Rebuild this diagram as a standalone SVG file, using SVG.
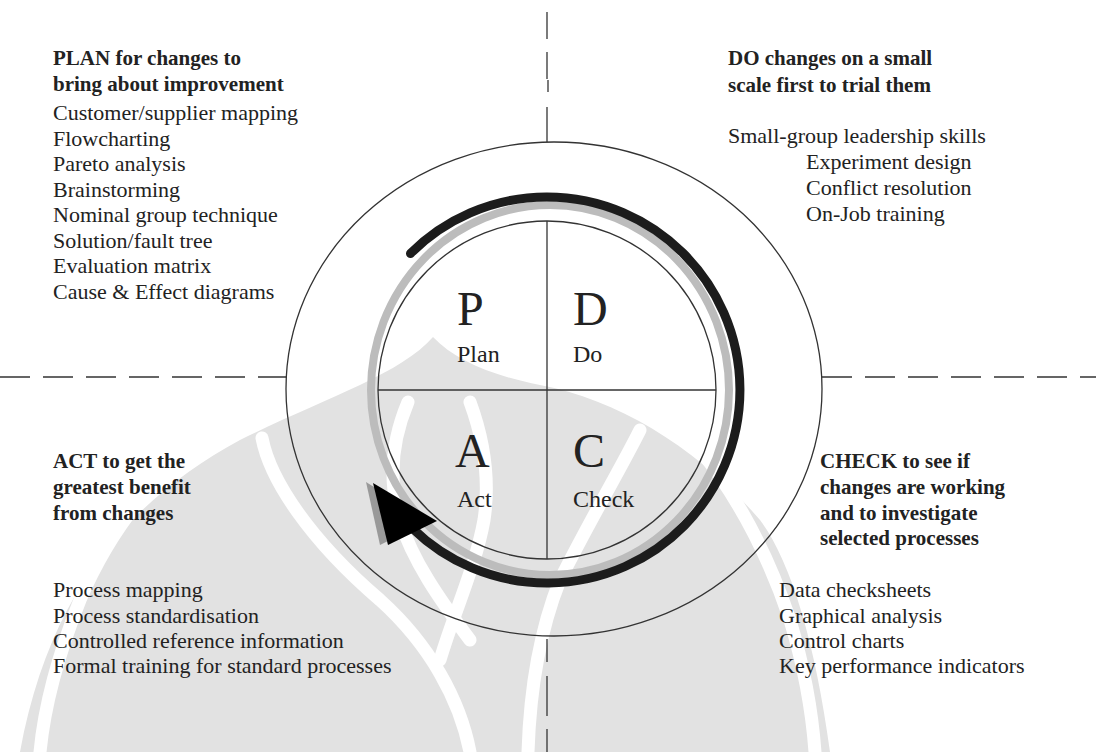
<svg xmlns="http://www.w3.org/2000/svg" width="1096" height="752" viewBox="0 0 1096 752">
<style>
text{font-family:"Liberation Serif","Times New Roman",serif;fill:#222}
.h{font-weight:bold;font-size:21px}
.t{font-size:22px}
.big{font-size:48px}
.lbl{font-size:24px}
.ln{stroke:#333;stroke-width:1.3;fill:none}
.wm{fill:#e2e2e2}
.cut{fill:none;stroke:#fff;stroke-width:13;stroke-linecap:round}
</style>
<rect width="1096" height="752" fill="#fff"/>
<g id="watermark">
<path class="wm" d="M 433 337 C 400 375 320 400 240 440 C 130 500 50 590 20 752 L 830 752 C 815 640 790 560 760 520 C 700 450 620 400 540 385 C 490 375 455 360 433 337 Z"/>
<path class="cut" d="M 200 442 C 150 480 110 530 80 600 C 60 650 45 700 40 752"/>
<path class="cut" d="M 262 438 C 270 480 310 540 380 600 C 430 645 460 700 470 752"/>
<path class="cut" d="M 408 402 C 392 440 388 480 400 520 C 412 560 440 600 470 640"/>
<path class="cut" d="M 470 402 C 484 440 490 480 484 520 C 476 565 455 610 440 660"/>
<path class="cut" d="M 640 430 C 620 470 590 520 560 580 C 540 630 530 690 528 752"/>
<path class="cut" d="M 700 450 C 740 500 770 560 790 620 C 805 670 812 710 815 752"/>
</g>
<g id="axes">
<line class="ln" x1="0" y1="377" x2="287" y2="377" stroke-dasharray="30 13"/>
<line class="ln" x1="822" y1="377" x2="1096" y2="377" stroke-dasharray="30 13"/>
<line class="ln" x1="547" y1="12" x2="547" y2="39"/>
<line class="ln" x1="547" y1="52" x2="547" y2="79"/>
<line class="ln" x1="548" y1="80" x2="548" y2="92"/>
<line class="ln" x1="547" y1="107" x2="547" y2="142"/>
<line class="ln" x1="547" y1="639" x2="547" y2="662"/>
<line class="ln" x1="547" y1="676" x2="547" y2="716"/>
<line class="ln" x1="547" y1="729" x2="547" y2="752"/>
</g>
<g id="outer-ring">
<ellipse class="ln" cx="554" cy="389" rx="268" ry="247"/>
</g>
<g id="cycle-arrow">
<ellipse cx="550" cy="390" rx="179" ry="185" fill="none" stroke="#bcbcbc" stroke-width="8"/>
<path d="M 410.5 253.5 A 193 193 0 1 1 412 528" fill="none" stroke="#1c1c1c" stroke-width="9" stroke-linecap="round"/>
<polygon points="366,482 380,545 428,521" fill="#999"/>
<polygon points="373,483 388,545 437,521" fill="#000"/>
</g>
<g id="pdca-circle">
<circle class="ln" cx="547" cy="390" r="169"/>
<line class="ln" x1="378" y1="390" x2="716" y2="390"/>
<line class="ln" x1="547" y1="221" x2="547" y2="559"/>
</g>
<g id="node-plan">
<text class="big" x="457" y="325">P</text>
<text class="lbl" x="457" y="362">Plan</text>
</g>
<g id="node-do">
<text class="big" x="573" y="325">D</text>
<text class="lbl" x="573" y="362">Do</text>
</g>
<g id="node-act">
<text class="big" x="455" y="467">A</text>
<text class="lbl" x="457" y="507">Act</text>
</g>
<g id="node-check">
<text class="big" x="573" y="467">C</text>
<text class="lbl" x="573" y="507">Check</text>
</g>
<g id="plan-text">
<text class="h" x="53" y="65">PLAN for changes to</text>
<text class="h" x="53" y="91">bring about improvement</text>
<text class="t" x="53" y="120">Customer/supplier mapping</text>
<text class="t" x="53" y="145.5">Flowcharting</text>
<text class="t" x="53" y="171">Pareto analysis</text>
<text class="t" x="53" y="196.5">Brainstorming</text>
<text class="t" x="53" y="222">Nominal group technique</text>
<text class="t" x="53" y="247.5">Solution/fault tree</text>
<text class="t" x="53" y="273">Evaluation matrix</text>
<text class="t" x="53" y="298.5">Cause &amp; Effect diagrams</text>
</g>
<g id="do-text">
<text class="h" x="728" y="65">DO changes on a small</text>
<text class="h" x="728" y="92">scale first to trial them</text>
<text class="t" x="728" y="143">Small-group leadership skills</text>
<text class="t" x="806" y="169">Experiment design</text>
<text class="t" x="806" y="195">Conflict resolution</text>
<text class="t" x="806" y="221">On-Job training</text>
</g>
<g id="act-text">
<text class="h" x="53" y="468">ACT to get the</text>
<text class="h" x="53" y="494">greatest benefit</text>
<text class="h" x="53" y="520">from changes</text>
<text class="t" x="53" y="597">Process mapping</text>
<text class="t" x="53" y="623">Process standardisation</text>
<text class="t" x="53" y="648">Controlled reference information</text>
<text class="t" x="53" y="673">Formal training for standard processes</text>
</g>
<g id="check-text">
<text class="h" x="820" y="468">CHECK to see if</text>
<text class="h" x="820" y="494">changes are working</text>
<text class="h" x="820" y="520">and to investigate</text>
<text class="h" x="820" y="545">selected processes</text>
<text class="t" x="779" y="597">Data checksheets</text>
<text class="t" x="779" y="623">Graphical analysis</text>
<text class="t" x="779" y="648">Control charts</text>
<text class="t" x="779" y="673">Key performance indicators</text>
</g>
</svg>
